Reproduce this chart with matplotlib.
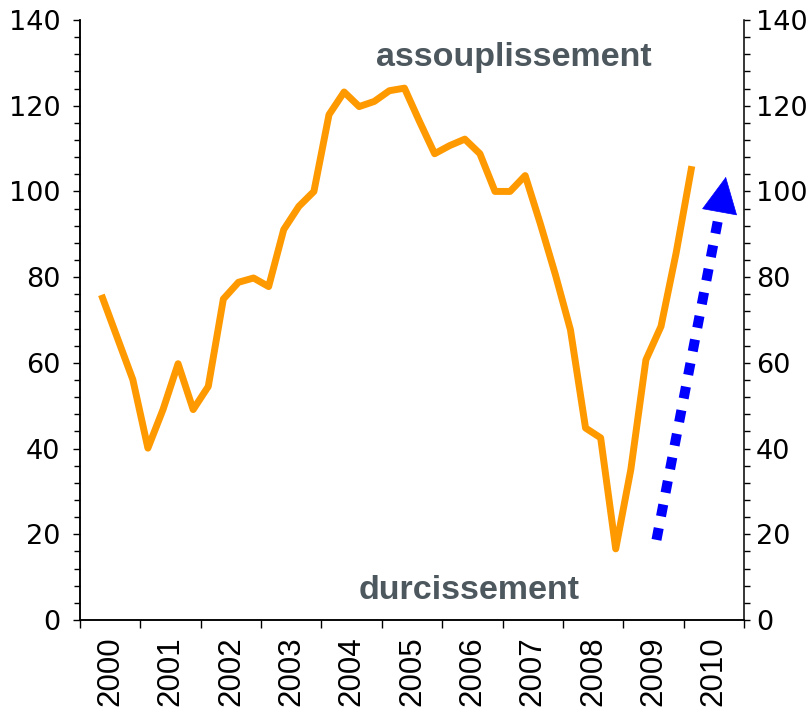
import matplotlib
matplotlib.use("Agg")
import matplotlib.pyplot as plt
from matplotlib.ticker import MultipleLocator, FixedLocator, NullFormatter

# quarterly series, starts in the 2nd quarter of 2000
first_year = 2000
first_quarter = 2
values = [75.1, 65.6, 56.1, 40.1, 49.1, 59.8, 49.1, 54.5, 74.9, 78.8,
          79.8, 77.8, 91.1, 96.5, 100.0, 117.9, 123.2, 119.8, 121.0, 123.5,
          124.1, 116.3, 108.8, 110.7, 112.2, 108.8, 100.0, 100.0, 103.7, 92.5,
          80.6, 67.7, 44.8, 42.5, 16.6, 35.1, 60.7, 68.5, 85.6, 105.1]
years = list(range(2000, 2011))
y_ticks = [0, 20, 40, 60, 80, 100, 120, 140]

# annotations (position in data units)
label_top = "assouplissement"
label_bottom = "durcissement"
arrow_tail = (2009.55, 18.7)
arrow_base = (2010.60, 95.6)
arrow_tip = (2010.70, 103.4)

orange = "#FF9900"
blue = "#0000FF"
grey = "#4D575E"

# x position of each quarter = middle of the quarter
x = []
for i in range(len(values)):
    q = first_quarter - 1 + i
    x.append(first_year + (q + 0.5) / 4)

fig = plt.figure(figsize=(8.07, 7.11), dpi=100)
ax = fig.add_axes([80 / 807, 1 - 620 / 711, 664 / 807, 600 / 711])

ax.plot(x, values, color=orange, linewidth=5, solid_joinstyle="round", zorder=3)

# dotted arrow
ax.plot([arrow_tail[0], arrow_base[0]], [arrow_tail[1], arrow_base[1]],
        color=blue, linewidth=7.2, linestyle=(0, (1.2, 1.2)),
        dash_capstyle="butt", zorder=4)
ax.annotate("", xy=arrow_tip, xytext=arrow_base,
            arrowprops=dict(arrowstyle="-|>,head_length=1.25,head_width=0.62",
                            color=blue, lw=0.5, shrinkA=0, shrinkB=0,
                            mutation_scale=20), zorder=4)

ax.text(2007.18, 131.2, label_top, color=grey, fontsize=24.5, fontweight="bold",
        family="Liberation Sans", ha="center", va="center")
ax.text(2006.45, 6.8, label_bottom, color=grey, fontsize=24.5, fontweight="bold",
        family="Liberation Sans", ha="center", va="center")

ax.set_xlim(2000, 2011)
ax.set_ylim(0, 140)

ax2 = ax.twinx()
ax2.set_ylim(0, 140)

for a in (ax, ax2):
    a.set_yticks(y_ticks)
    a.yaxis.set_minor_locator(MultipleLocator(4))
    for s in a.spines.values():
        s.set_linewidth(1.1)
    a.spines["top"].set_visible(False)

ax.spines["right"].set_visible(False)
ax.tick_params(axis="y", which="major", length=5, width=1, pad=9, labelsize=19.5)
ax.tick_params(axis="y", which="minor", length=4, width=1)
ax2.tick_params(axis="y", which="major", length=4, width=1, pad=4.5, labelsize=19.5)
ax2.tick_params(axis="y", which="minor", length=4, width=1)

# year labels between the year ticks
ax.xaxis.set_major_locator(FixedLocator(years + [years[-1] + 1]))
ax.xaxis.set_major_formatter(NullFormatter())
ax.xaxis.set_minor_locator(FixedLocator([yr + 0.5 for yr in years]))
ax.set_xticklabels([str(yr) for yr in years], minor=True, rotation=90,
                   family="Liberation Sans", fontsize=22.5)
ax.tick_params(axis="x", which="major", length=6, width=1)
ax.tick_params(axis="x", which="minor", length=0, pad=12)

fig.savefig("out.png", dpi=100)
